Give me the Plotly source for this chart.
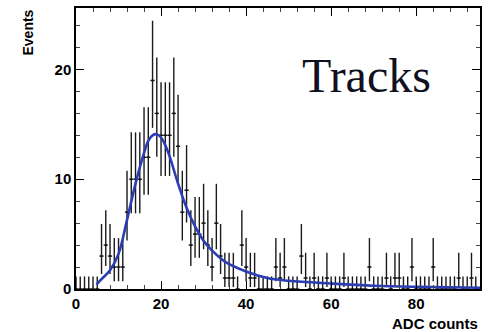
import plotly.graph_objects as go

# ---- data ----
adc_bins = list(range(0, 95))
counts = [0, 0, 0, 0, 0, 0, 3, 4, 3, 2,
          2, 2, 7, 10, 10, 10, 12, 12, 19, 16,
          14, 14, 14, 16, 13, 7, 9, 4, 5, 5,
          6, 4, 2, 6, 3, 1, 1, 1, 0, 4,
          2, 1, 1, 0, 0, 0, 0, 2, 1, 2,
          0, 0, 0, 3, 1, 0, 1, 0, 0, 1,
          0, 0, 0, 1, 0, 0, 0, 0, 0, 2,
          0, 0, 0, 1, 0, 1, 1, 0, 0, 2,
          0, 0, 0, 0, 2, 0, 0, 0, 0, 0,
          1, 0, 0, 1, 0]

# Poisson (Garwood 68%) interval bounds indexed by count
pois_lo = [0.0, 0.173, 0.708, 1.367, 2.086, 2.840, 3.620, 4.419, 5.232, 6.057,
           6.891, 7.734, 8.585, 9.441, 10.30, 11.17, 12.04, 12.92, 13.80, 14.68, 15.57]
pois_hi = [1.15, 3.300, 4.638, 5.918, 7.163, 8.382, 9.584, 10.77, 11.95, 13.11,
           14.27, 15.42, 16.56, 17.70, 18.83, 19.96, 21.08, 22.20, 23.32, 24.44, 25.55]

fit_x = [4.8, 6, 8, 10, 12, 14, 16, 17, 18, 19, 20, 21, 22, 24, 26, 28, 30, 32,
         35, 40, 45, 50, 60, 70, 80, 95]
fit_y = [0.4, 0.9, 1.7, 3.2, 6.3, 9.6, 12.4, 13.5, 14.0, 14.1, 13.8, 13.1, 12.1,
         9.6, 7.4, 5.7, 4.4, 3.5, 2.5, 1.6, 1.0, 0.75, 0.5, 0.3, 0.2, 0.12]

x_ticks = [0, 20, 40, 60, 80]
y_ticks = [0, 10, 20]

err_up = [pois_hi[n] - n for n in counts]
err_dn = [n - pois_lo[n] for n in counts]

fig = go.Figure()
fig.add_trace(go.Scatter(
    x=adc_bins, y=counts, mode="markers",
    marker=dict(size=2, color="#111"),
    error_y=dict(type="data", symmetric=False, array=err_up, arrayminus=err_dn,
                 color="#1a1a1a", thickness=1.4, width=0),
    error_x=dict(type="constant", value=0.5, color="#1a1a1a", thickness=1.4, width=0),
    showlegend=False, cliponaxis=True,
))
fig.add_trace(go.Scatter(
    x=fit_x, y=fit_y, mode="lines", line=dict(color="#2a3db5", width=2.6, shape="spline"),
    showlegend=False,
))

axis_font = dict(family="Liberation Sans", size=15, color="black", weight="bold")
fig.update_layout(
    width=488, height=332,
    margin=dict(l=76, r=6, t=7, b=43),
    paper_bgcolor="white", plot_bgcolor="white",
    font=axis_font,
    xaxis=dict(range=[0, 95], tickvals=x_ticks, ticks="inside", ticklen=8,
               tickcolor="black", showline=True, linecolor="black", linewidth=1.5,
               mirror="ticks", showgrid=False, zeroline=False,
               minor=dict(ticks="inside", ticklen=4, dtick=4, tickcolor="#444"),
               tickfont=axis_font),
    yaxis=dict(range=[0, 25.6], tickvals=y_ticks, ticks="inside", ticklen=8,
               tickcolor="black", showline=True, linecolor="black", linewidth=1.5,
               mirror="ticks", showgrid=False, zeroline=False,
               minor=dict(ticks="inside", ticklen=4, dtick=2, tickcolor="#444"),
               tickfont=axis_font),
    annotations=[
        dict(text="Events", xref="paper", yref="paper", x=-0.12, y=1.0,
             xanchor="center", yanchor="top", textangle=-90, showarrow=False,
             font=dict(family="Liberation Sans", size=14, weight="bold", color="black")),
        dict(text="ADC counts", xref="paper", yref="paper", x=1.0, y=-0.085,
             xanchor="right", yanchor="top", showarrow=False,
             font=dict(family="Liberation Sans", size=15, weight="bold", color="black")),
        dict(text="Tracks", xref="paper", yref="paper", x=0.718, y=0.76,
             xanchor="center", yanchor="middle", showarrow=False,
             font=dict(family="Liberation Serif", size=48, weight="normal", color="#101020")),
    ],
)

fig.write_html("out.html", config={"displayModeBar": False},
               post_script="document.body.style.margin='0';document.body.style.padding='0';")
